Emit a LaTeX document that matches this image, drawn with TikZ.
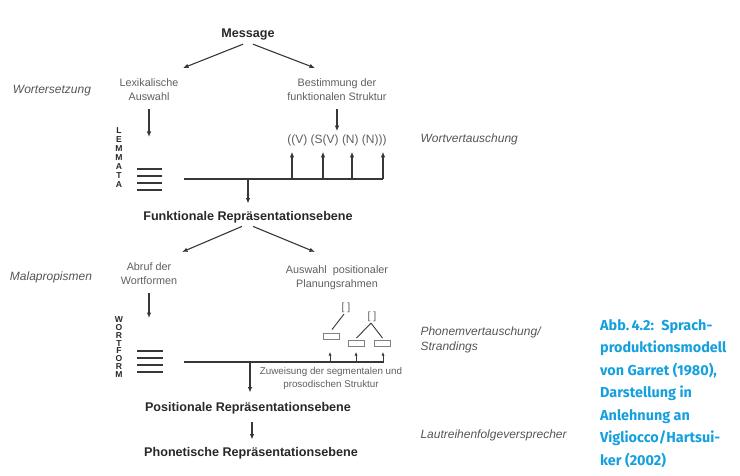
\documentclass[tikz,border=0pt]{standalone}
\usepackage{fontspec}
\setmainfont{Liberation Sans}
\newfontfamily\capfont{Fira Sans}
\usepackage{tikz}
\usetikzlibrary{positioning,calc,arrows.meta}

\definecolor{capblue}{RGB}{20,160,222}
\definecolor{lvlgray}{RGB}{40,40,40}
\definecolor{procgray}{RGB}{95,95,95}
\definecolor{errgray}{RGB}{85,85,85}
\definecolor{linegray}{RGB}{55,55,55}

\tikzset{
  lvl/.style={font=\fontsize{12.6}{15}\selectfont\bfseries, text=lvlgray},
  proc/.style={font=\fontsize{10.8}{14}\selectfont, text=procgray, align=center},
  small/.style={font=\fontsize{9.8}{13}\selectfont, text=procgray, align=center},
  err/.style={font=\fontsize{12}{15}\selectfont\itshape, text=errgray},
  struct/.style={font=\fontsize{12}{14}\selectfont, text=procgray, inner sep=0pt},
  vletter/.style={font=\fontsize{8.6}{9}\selectfont\bfseries, text=lvlgray, inner sep=0pt},
  frame/.style={draw=black!50, line width=0.9pt, minimum width=16pt, minimum height=6pt, inner sep=0pt},
  brack/.style={font=\fontsize{10.5}{12}\selectfont, text=procgray, inner sep=1pt},
  arr/.style={-{Latex[length=5.5pt,width=4.5pt]}, line width=1.1pt, draw=linegray},
  smallarr/.style={-{Latex[length=3.5pt,width=3pt]}, line width=0.8pt, draw=linegray},
  hline/.style={line width=1.3pt, draw=linegray},
  bar/.style={line width=1.3pt, draw=linegray},
  caption/.style={font=\capfont\bfseries\fontsize{14.4}{22.5}\selectfont, text=capblue, align=left, inner sep=0pt},
}

\begin{document}
\begin{tikzpicture}[x=1pt,y=-1pt]
    \useasboundingbox (0,0) rectangle (740,476);

    % levels
    \node[lvl] (msg) at (248,35) {Message};
    \node[lvl] (frep) at (248,217) {Funktionale Repräsentationsebene};
    \node[lvl] (prep) at (248,408) {Positionale Repräsentationsebene};
    \node[lvl] (phrep) at (251,453) {Phonetische Repräsentationsebene};

    % processes
    \node[proc] (lex) at (149,90) {Lexikalische\\Auswahl};
    \node[proc] (best) at (337,90) {Bestimmung der\\funktionalen Struktur};
    \node[struct] (fs) at (337,140) {((V) (S(V) (N) (N)))};
    \node[proc] (abruf) at (149,274) {Abruf der\\Wortformen};
    \node[proc] (ausw) at (337,278) {Auswahl\ \ positionaler\\Planungsrahmen};
    \node[small] (zuw) at (331,378) {Zuweisung der segmentalen und\\prosodischen Struktur};

    % error types
    \node[err] (wers) at (52,91) {Wortersetzung};
    \node[err] (mala) at (51,277) {Malapropismen};
    \node[err, anchor=west] (wvt) at (417,139) {Wortvertauschung};
    \node[err, anchor=west, align=left] (pvt) at (417,340) {Phonemvertauschung/\\Strandings};
    \node[err, anchor=west] (lrv) at (417,435) {Lautreihenfolgeversprecher};

    % vertical letters
    \foreach \l [count=\i] in {L,E,M,M,A,T,A}
        \node[vletter] (lem\i) at (119,122+9*\i) {\l};
    \foreach \l [count=\i] in {W,O,R,T,F,O,R,M}
        \node[vletter] (wf\i) at (119,311.5+7.9*\i) {\l};

    % bars
    \foreach \y in {169,176,183,190}
        \draw[bar] (137,\y) -- (162,\y);
    \foreach \y in {351,358,365,372}
        \draw[bar] (137,\y) -- (163,\y);

    % arrow ends
    \coordinate (lexin) at (183,68);
    \coordinate (bestin) at (315,68);
    \coordinate (lemin) at (149,137);
    \coordinate (abrin) at (182,252);
    \coordinate (auswin) at (315,252);
    \coordinate (wfin) at (149,318);

    % first stage
    \draw[arr] ([xshift=-5pt]msg.south) -- (lexin);
    \draw[arr] ([xshift=5pt]msg.south) -- (bestin);
    \draw[arr] ([yshift=-5pt]lex.south) -- (lemin);
    \draw[arr] ([yshift=-5pt]best.south) -- ([yshift=3pt]fs.north);

    \coordinate (fl) at (184,179);
    \coordinate (fr) at (383,179);
    \coordinate (fsb) at ([yshift=-6pt]fs.south);
    \draw[hline] (fl) -- (fr);
    \foreach \x in {292,323,352,383}
        \draw[arr] (\x,179) -- (\x,179 |- fsb);
    \draw[arr] (frep |- fl) -- ([yshift=4pt]frep.north);

    % second stage
    \draw[arr] ([xshift=-6pt]frep.south) -- (abrin);
    \draw[arr] ([xshift=5pt]frep.south) -- (auswin);
    \draw[arr] ([yshift=-5pt]abruf.south) -- (wfin);

    \node[brack] (br1) at (346,308) {[\ ]};
    \node[brack] (br2) at (372,317) {[\ ]};
    \node[frame] (bx1) at (331,336) {};
    \node[frame] (bx2) at (356.5,343.5) {};
    \node[frame] (bx3) at (382.5,343.5) {};
    \draw[line width=0.9pt, draw=linegray] ([xshift=-2pt]br1.south) -- ([xshift=1pt,yshift=3pt]bx1.north);
    \draw[line width=0.9pt, draw=linegray] ([xshift=-1pt]br2.south) -- ([yshift=2pt]bx2.north);
    \draw[line width=0.9pt, draw=linegray] ([xshift=-1pt]br2.south) -- ([yshift=2pt]bx3.north);

    \coordinate (pl) at (184,362);
    \coordinate (pr) at (384,362);
    \coordinate (prepn) at ([yshift=6pt]prep.north);
    \coordinate (preps) at ([yshift=-5pt]prep.south);
    \coordinate (phrepn) at ([yshift=4pt]phrep.north);
    \draw[hline] (pl) -- (pr);
    \foreach \x in {330,356,383}
        \draw[smallarr] (\x,362) -- (\x,352);
    \draw[arr] (250,362) -- (250,362 |- prepn);
    \draw[arr] (252,0 |- preps) -- (252,0 |- phrepn);

    % caption
    \node[caption, anchor=north west] (abb) at (600,319)
        {Abb.\,4.2:\enspace Sprach-\\produktionsmodell\\von Garret (1980),\\Darstellung in\\Anlehnung an\\Vigliocco/Hartsui-\\ker (2002)};

\end{tikzpicture}
\end{document}
